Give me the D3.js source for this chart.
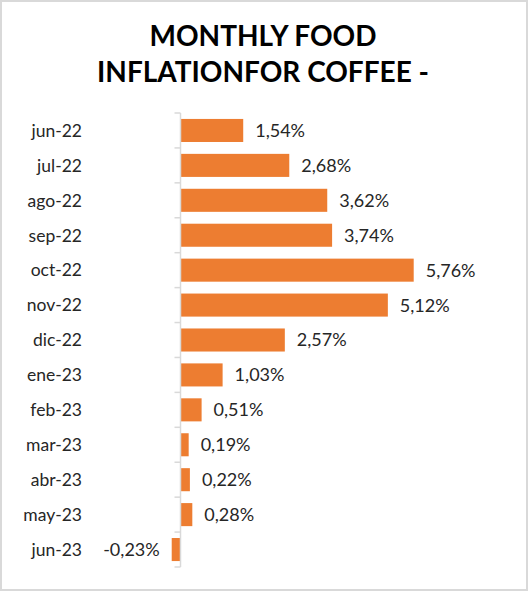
<!DOCTYPE html>
<html><head><meta charset="utf-8">
<script src="https://cdn.jsdelivr.net/npm/d3@7"></script>
<style>html,body{margin:0;padding:0;background:#fff;}</style>
</head><body>
<script>
const categories = ["jun-22","jul-22","ago-22","sep-22","oct-22","nov-22","dic-22","ene-23","feb-23","mar-23","abr-23","may-23","jun-23"];
const values = [1.54,2.68,3.62,3.74,5.76,5.12,2.57,1.03,0.51,0.19,0.22,0.28,-0.23];
const valueLabels = ["1,54%","2,68%","3,62%","3,74%","5,76%","5,12%","2,57%","1,03%","0,51%","0,19%","0,22%","0,28%","-0,23%"];
const titleLines = ["MONTHLY FOOD","INFLATIONFOR COFFEE -"];

const W = 528, H = 591;
const svg = d3.select("body").append("svg").attr("width", W).attr("height", H);
svg.append("rect").attr("x",1).attr("y",1).attr("width",W-2).attr("height",H-2)
  .attr("fill","#fff").attr("stroke","#d9d9d9").attr("stroke-width",2);

const font = "Lato, 'DejaVu Sans', sans-serif";
svg.selectAll("text.title").data(titleLines).join("text")
  .attr("class","title")
  .attr("x", 263).attr("y",(d,i)=>46+i*36)
  .attr("text-anchor","middle")
  .attr("font-family", font).attr("font-weight","bold").attr("font-size",28)
  .attr("fill","#000").text(d=>d);

const x = d3.scaleLinear().domain([0, 1]).range([181, 221.4]);
const y = d3.scaleBand().domain(categories).range([113, 567]).paddingInner(0.34).paddingOuter(0.17);

svg.selectAll("rect.bar").data(values).join("rect")
  .attr("class","bar")
  .attr("x",(d)=>x(Math.min(0,d)))
  .attr("y",(d,i)=>y(categories[i]))
  .attr("width",d=>Math.abs(x(d)-x(0)))
  .attr("height",y.bandwidth())
  .attr("fill","#ED7D31");

// axis
const axisG = svg.append("g").attr("transform",`translate(${x(0)-0.5},0)`);
const bounds = categories.map(c=>y(c)-y.step()*y.paddingInner()/2);
bounds.push(567);
axisG.append("line").attr("x1",0).attr("x2",0).attr("y1",113).attr("y2",567).attr("stroke","#d9d9d9").attr("stroke-width",1.5);
axisG.selectAll("line.tick").data(bounds).join("line").attr("class","tick")
  .attr("x1",-6).attr("x2",0).attr("y1",d=>d).attr("y2",d=>d).attr("stroke","#d9d9d9").attr("stroke-width",1.5);

svg.selectAll("text.cat").data(categories).join("text")
  .attr("class","cat")
  .attr("x",82).attr("y",d=>y(d)+y.bandwidth()/2)
  .attr("dy","0.36em").attr("text-anchor","end")
  .attr("font-family",font).attr("font-size",17.5).attr("fill","#262626").text(d=>d);

svg.selectAll("text.val").data(values).join("text")
  .attr("class","val")
  .attr("x",d=> d>=0 ? x(d)+12 : x(d)-12)
  .attr("y",(d,i)=>y(categories[i])+y.bandwidth()/2)
  .attr("dy","0.36em").attr("text-anchor",d=>d>=0?"start":"end")
  .attr("font-family",font).attr("font-size",18).attr("fill","#262626")
  .text((d,i)=>valueLabels[i]);
</script>
</body></html>
